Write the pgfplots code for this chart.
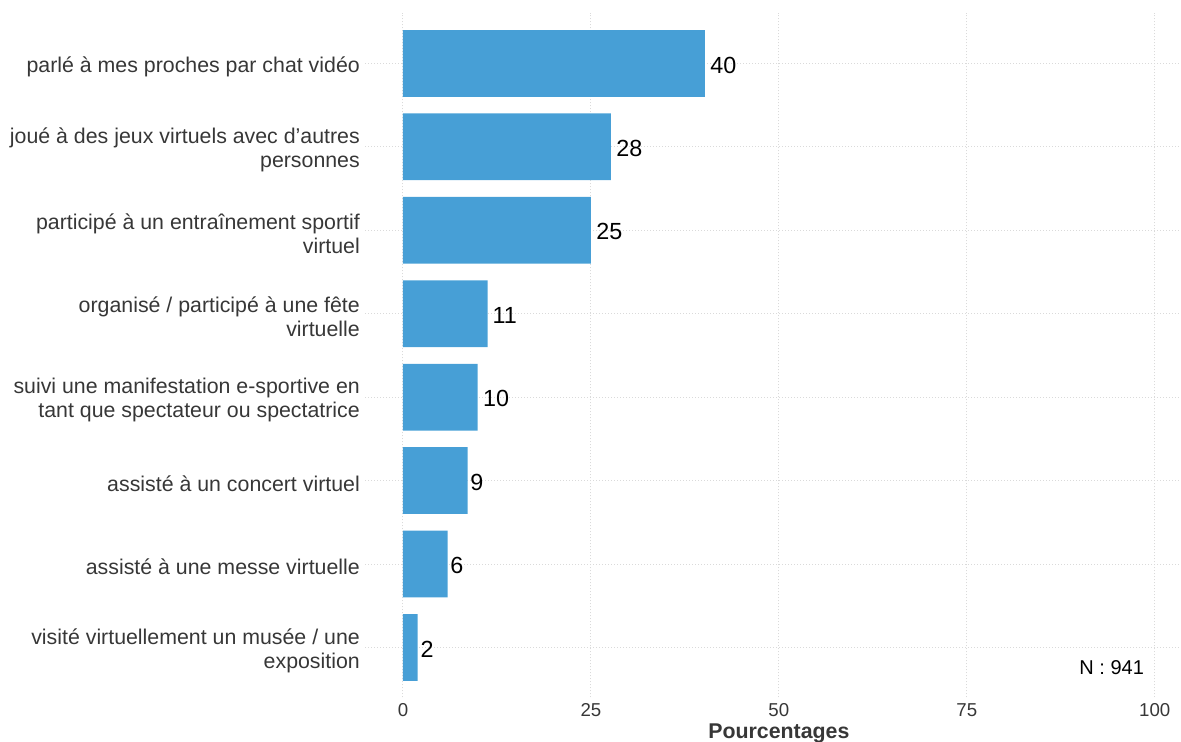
\documentclass[border=0pt]{standalone}
\usepackage{fontspec}
\setmainfont{Liberation Sans}
\usepackage{pgfplots}
\pgfplotsset{compat=1.18}
\definecolor{barblue}{RGB}{71,159,214}
\definecolor{gridc}{RGB}{218,218,218}
\definecolor{txt}{RGB}{55,55,55}
\newcommand\lbl[1]{\setbox0\hbox{#1}\kern0.2\wd0\box0}
\begin{document}
\begin{tikzpicture}
\path[use as bounding box] (-274.05pt,-33.375pt) rectangle (611.7pt,523.125pt);
\begin{axis}[
  at={(0,0)}, anchor=south west,
  scale only axis, width=611.7pt, height=513.1pt,
  xbar, bar width=0.8, bar shift=0pt,
  xmin=-5, xmax=103.5, ymin=-0.6, ymax=7.6,
  axis line style={draw=none}, major tick length=0pt, tick style={draw=none},
  xtick={0,25,50,75,100}, ytick={0,...,7},
  yticklabels={{visité virtuellement un musée / une\\exposition},
               {assisté à une messe virtuelle},
               {assisté à un concert virtuel},
               {suivi une manifestation e-sportive en\\tant que spectateur ou spectatrice},
               {organisé / participé à une fête\\virtuelle},
               {participé à un entraînement sportif\\virtuel},
               {joué à des jeux virtuels avec d’autres\\personnes},
               {parlé à mes proches par chat vidéo}},
  grid=major,
  grid style={gridc, line width=0.75pt, dash pattern=on 0.75pt off 1.5pt},
  yticklabel style={font=\fontsize{16}{18}\selectfont, text=txt, align=right, inner sep=0pt, xshift=-4pt, yshift=-2.25pt},
  xticklabel style={font=\fontsize{14}{16}\selectfont, text=txt, inner sep=0pt, yshift=-4.5pt},
  /pgf/number format/assume math mode=true,
  xlabel={Pourcentages},
  xlabel style={font=\bfseries\fontsize{16}{18}\selectfont, text=txt, at={(axis cs:50,-0.6)}, anchor=north, inner sep=0pt, yshift=-19.6pt},
  point meta=explicit symbolic,
  nodes near coords={\lbl{\pgfplotspointmeta}},
  nodes near coords style={font=\fontsize{17.5}{20}\selectfont, text=black, inner sep=0pt, anchor=west, yshift=-1.2pt},
]
\addplot[fill=barblue, draw=none] coordinates {
  (1.95,0) [2]
  (5.94,1) [6]
  (8.6,2) [9]
  (9.93,3) [10]
  (11.26,4) [11]
  (25.0,5) [25]
  (27.66,6) [28]
  (40.16,7) [40]
};
\node[anchor=east, font=\fontsize{15}{18}\selectfont, inner sep=0pt] at (axis cs:98.6,-0.24) {N : 941};
\end{axis}
\end{tikzpicture}
\end{document}
